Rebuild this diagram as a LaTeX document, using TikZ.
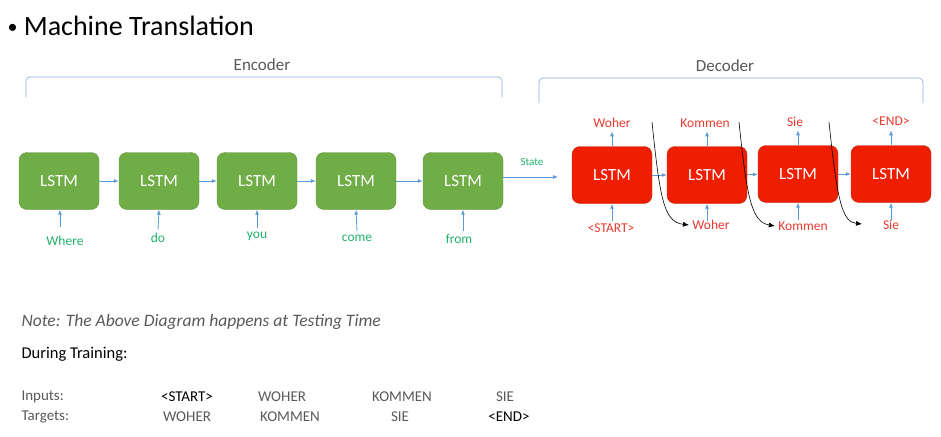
\documentclass[tikz,border=0pt]{standalone}
\usepackage{fontspec}
\setmainfont{Carlito}
\usetikzlibrary{arrows.meta}
\definecolor{encgreen}{HTML}{70AD47}
\definecolor{encline}{HTML}{5E9538}
\definecolor{decred}{HTML}{F01E00}
\definecolor{decline}{HTML}{B8330F}
\definecolor{wordgreen}{HTML}{21B06A}
\definecolor{wordred}{HTML}{E8392F}
\definecolor{flowblue}{HTML}{5B9BD5}
\definecolor{bracketblue}{HTML}{8FAADC}
\definecolor{notegray}{HTML}{595959}
\begin{document}
\begin{tikzpicture}[x=1pt,y=-1pt,
  enc/.style={rectangle,rounded corners=8pt,fill=encgreen,draw=encline,text=white,
    minimum width=80pt,minimum height=57pt,font=\fontsize{17}{20}\selectfont},
  dec/.style={enc,fill=decred,draw=decline},
  inword/.style={text=wordgreen,font=\fontsize{13.5}{15}\selectfont},
  outword/.style={text=wordred,font=\fontsize{13.5}{15}\selectfont},
  flow/.style={->,>={Latex[length=5pt,width=4pt]},flowblue,line width=0.8pt},
  feed/.style={->,>={Latex[length=6pt,width=5pt]},black,line width=0.6pt},
  tab/.style={text=notegray,font=\fontsize{15}{17}\selectfont}]
\useasboundingbox (0,0) rectangle (941,436);
\node[anchor=west,font=\fontsize{28}{32}\selectfont] (title) at (4,26) {\raisebox{0.07em}{\fontsize{20}{22}\selectfont•} Machine Translation};
% brackets
\node[text=notegray,font=\fontsize{17}{20}\selectfont] (enclabel) at (262,65) {Encoder};
\node[text=notegray,font=\fontsize{17}{20}\selectfont] (declabel) at (725,66) {Decoder};
\draw[bracketblue,line width=0.7pt,rounded corners=4pt] (26,97) -- (26,77) -- (502,77) -- (502,97);
\draw[bracketblue,line width=0.7pt,rounded corners=4pt] (539,103) -- (539,78) -- (923,78) -- (923,103);
% encoder
\node[enc] (e1) at (59,181) {LSTM};
\node[enc] (e2) at (159,181) {LSTM};
\node[enc] (e3) at (257,181) {LSTM};
\node[enc] (e4) at (356,181) {LSTM};
\node[enc] (e5) at (463,181) {LSTM};
\node[inword] (x1) at (65,241) {Where};
\node[inword] (x2) at (158,238) {do};
\node[inword] (x3) at (257,236) {you};
\node[inword] (x4) at (357,238) {come};
\node[inword] (x5) at (459,239) {from};
\draw[flow] (e1) -- (e2);
\draw[flow] (e2) -- (e3);
\draw[flow] (e3) -- (e4);
\draw[flow] (e4) -- (e5);
\draw[flow] (60,227) -- (e1.south -| 60,0);
\draw[flow] (x2.north) -- (e2.south);
\draw[flow] (x3.north) -- (e3.south);
\draw[flow] (x4.north) -- (e4.south);
\draw[flow] (x5.north -| e5) -- (e5.south);
% state
\coordinate (s) at (558,177);
\node[text=wordgreen,font=\fontsize{11}{13}\selectfont] (state) at (532,162) {State};
\draw[flow] (e5.east |- s) -- (s);
% decoder
\node[dec] (d1) at (612,175) {LSTM};
\node[dec] (d2) at (707,175) {LSTM};
\node[dec] (d3) at (798,174) {LSTM};
\node[dec] (d4) at (891,174) {LSTM};
\draw[flow] (d1) -- (d2);
\draw[flow] (d2) -- (d3);
\draw[flow] (d3) -- (d4);
\node[outword] (y1) at (612,123) {Woher};
\node[outword] (y2) at (705,123) {Kommen};
\node[outword] (y3) at (795,122) {Sie};
\node[outword] (y4) at (891,121) {<END>};
\node[outword] (z1) at (611,228) {<START>};
\node[outword] (z2) at (711,225) {Woher};
\node[outword] (z3) at (803,226) {Kommen};
\node[outword] (z4) at (891,225) {Sie};
\draw[flow] (d1.north) -- ++(0,-15);
\draw[flow] (d2.north) -- ++(0,-15);
\draw[flow] (d3.north) -- ++(0,-15);
\draw[flow] (d4.north) -- ++(0,-15);
\draw[flow] (d1.south) ++(0,17) -- (d1.south);
\draw[flow] (d2.south) ++(0,17) -- (d2.south);
\draw[flow] (d3.south) ++(0,17) -- (d3.south);
\draw[flow] (d4.south) ++(0,17) -- (d4.south);
% feeding outputs back in
\coordinate (f1) at (652,122);
\coordinate (f2) at (739,122);
\coordinate (f3) at (829,122);
\draw[feed] (f1) .. controls (660,200) and (664,222) .. (z2.west);
\draw[feed] (f2) .. controls (747,200) and (752,222) .. (z3.west);
\draw[feed] (f3) .. controls (837,200) and (842,222) .. (862,224);
% notes
\node[anchor=west,text=notegray,font=\fontsize{17.5}{20}\itshape] (note) at (18,322) {Note: The Above Diagram happens at Testing Time};
\node[anchor=west,font=\fontsize{16.5}{19}\selectfont] (train) at (18,354) {During Training:};
\node[tab,anchor=west] (inp) at (18,397) {Inputs:};
\node[tab,anchor=west] (tgt) at (18,417) {Targets:};
\node[tab,text=black] (i1) at (187,397) {<START>};
\node[tab] (i2) at (282,397) {WOHER};
\node[tab] (i3) at (402,397) {KOMMEN};
\node[tab] (i4) at (505,397) {SIE};
\node[tab] (t1) at (187,417) {WOHER};
\node[tab] (t2) at (290,417) {KOMMEN};
\node[tab] (t3) at (400,417) {SIE};
\node[tab,text=black] (t4) at (509,417) {<END>};
\end{tikzpicture}
\end{document}
